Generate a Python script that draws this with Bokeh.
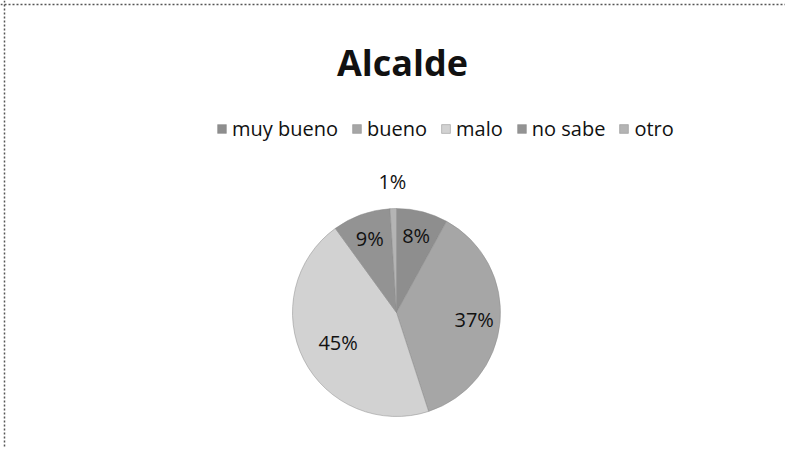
import math
from bokeh.plotting import figure
from bokeh.models import ColumnDataSource, Legend, LegendItem, Span, Range1d
from bokeh.core.properties import value
from bokeh.embed import file_html
from bokeh.resources import INLINE

# ---- data ----
title_text = "Alcalde"
categories = ["muy bueno", "bueno", "malo", "no sabe", "otro"]
percents = [8, 37, 45, 9, 1]
colors = ["#8e8e8e", "#a6a6a6", "#d2d2d2", "#939393", "#b4b4b4"]
label_radius_factor = [0.76, 0.75, 0.63, 0.76, 1.26]

W, H = 785, 447
cx, cy, R = 396, 135, 104

p = figure(width=W, height=H, output_backend="svg", toolbar_location=None,
           x_range=Range1d(0, W), y_range=Range1d(0, H), min_border=0,
           background_fill_color="white", border_fill_color="white")
p.axis.visible = False
p.grid.visible = False
p.outline_line_color = None

total = float(sum(percents))
starts, ends, lx, ly, labels = [], [], [], [], []
cum = 0.0
for v, f in zip(percents, label_radius_factor):
    a0 = cum / total
    a1 = (cum + v) / total
    # clockwise from 12 o'clock
    starts.append(math.pi / 2 - a1 * 2 * math.pi)
    ends.append(math.pi / 2 - a0 * 2 * math.pi)
    mid = math.pi / 2 - (a0 + a1) / 2 * 2 * math.pi
    lx.append(cx + f * R * math.cos(mid))
    ly.append(cy + f * R * math.sin(mid))
    labels.append(f"{v}%")
    cum += v

src = ColumnDataSource(dict(start=starts, end=ends, color=colors, cat=categories,
                            lx=lx, ly=ly, label=labels))

r = p.wedge(x=cx, y=cy, radius=R, start_angle="start", end_angle="end",
            fill_color="color", line_color="#8a8a8a", line_width=0.5, source=src)

p.text(x="lx", y="ly", text="label", source=src, text_align="center",
       text_baseline="middle", text_font=value("Open Sans"),
       text_font_size="20px", text_color="#111111")

# title
p.text(x=[402], y=[H - 62], text=[title_text], text_align="center",
       text_baseline="middle", text_font=value("Open Sans"),
       text_font_size="36px", text_font_style="bold", text_color="#111111")

# legend
items = [LegendItem(label=c, renderers=[r], index=i) for i, c in enumerate(categories)]
legend = Legend(items=items, orientation="horizontal", location=(216, H - 142),
                label_text_font="Open Sans", label_text_font_size="20px",
                label_text_color="#111111", glyph_width=11, glyph_height=11,
                label_standoff=5, spacing=13, padding=0, margin=0,
                border_line_color=None, background_fill_alpha=0)
p.add_layout(legend)

# dotted frame (top and left edges)
p.add_layout(Span(location=H - 4, dimension="width", line_color="#555555",
                  line_dash="2 2", line_width=1.5))
p.add_layout(Span(location=4, dimension="height", line_color="#555555",
                  line_dash="2 2", line_width=1.5))

open("out.html", "w").write(file_html(p, INLINE))
